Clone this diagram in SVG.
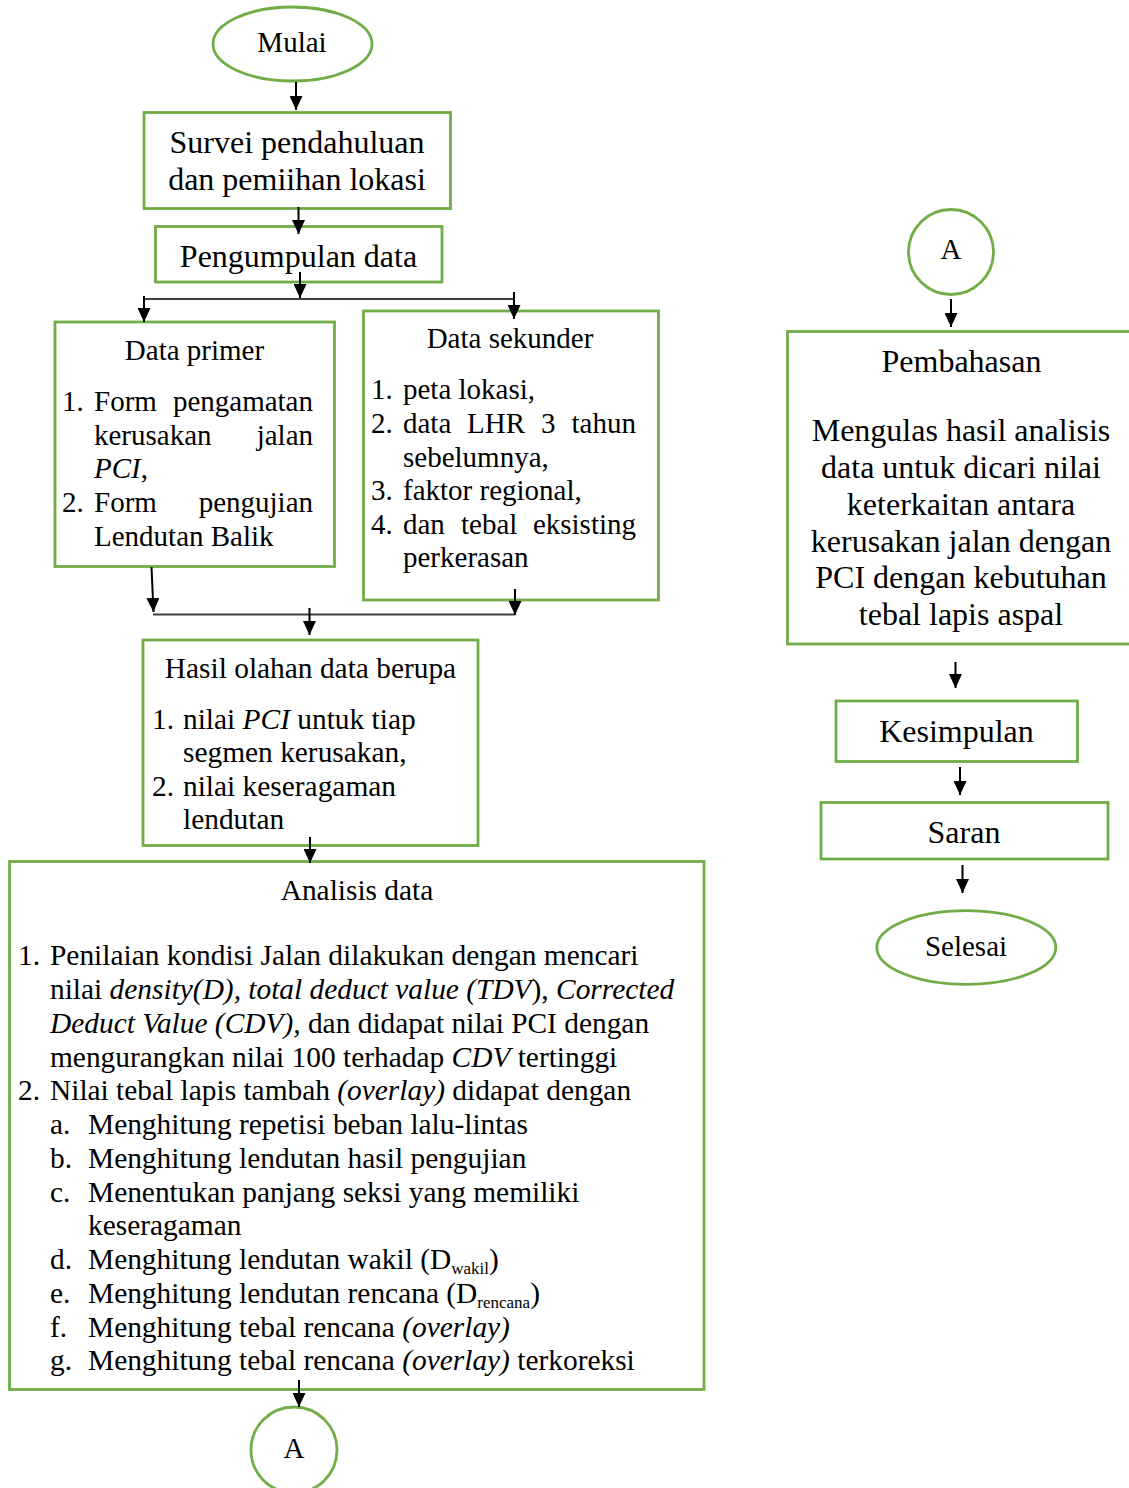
<svg xmlns="http://www.w3.org/2000/svg" width="1129" height="1488" viewBox="0 0 1129 1488">
<style>
.n{fill:#fff;stroke:#70AD47;stroke-width:2.8}
.t{font-family:"Liberation Serif","Times New Roman",serif;fill:#000}
.s29{font-size:29px}
.s29b{font-size:29.4px}
.s32{font-size:32px}
.c{text-anchor:middle}
.e{text-anchor:end}
.i{font-style:italic}
.sub{font-size:17px}
.ln{stroke:#000;stroke-width:2;fill:none}
.hl{stroke:#404040;stroke-width:2;fill:none}
</style>
<defs>
<marker id="ah" viewBox="0 0 14 13" refX="14" refY="6.5" markerWidth="14" markerHeight="13" markerUnits="userSpaceOnUse" orient="auto">
<path d="M0,0 L14,6.5 L0,13 z" fill="#000"/>
</marker>
</defs>
<rect width="1129" height="1488" fill="#fff"/>

<g id="mulai">
<ellipse class="n" cx="292.5" cy="44" rx="79.5" ry="37"/>
<text class="t s29 c" x="292" y="52">Mulai</text>
</g>
<g id="survei">
<rect class="n" x="144" y="112.5" width="306.5" height="96"/>
<text class="t s32 c" x="297" y="153">Survei pendahuluan</text>
<text class="t s32 c" x="297" y="189.5">dan pemiihan lokasi</text>
</g>
<g id="pengumpulan">
<rect class="n" x="155.5" y="226.5" width="286.5" height="55.5"/>
<text class="t s32 c" x="298.5" y="266.5">Pengumpulan data</text>
</g>
<g id="primer">
<rect class="n" x="55" y="322" width="279.5" height="244.5"/>
<text class="t s29 c" x="194.5" y="360">Data primer</text>
<text class="t s29" x="62" y="411">1.</text>
<text class="t s29" x="94" y="411">Form</text>
<text class="t s29 e" x="313" y="411">pengamatan</text>
<text class="t s29" x="94" y="445">kerusakan</text>
<text class="t s29 e" x="313" y="445">jalan</text>
<text class="t s29" x="94" y="478"><tspan class="i">PCI</tspan>,</text>
<text class="t s29" x="62" y="512">2.</text>
<text class="t s29" x="94" y="512">Form</text>
<text class="t s29 e" x="313" y="512">pengujian</text>
<text class="t s29" x="94" y="546">Lendutan Balik</text>
</g>
<g id="sekunder">
<rect class="n" x="363.5" y="311" width="295" height="289"/>
<text class="t s29 c" x="510" y="348">Data sekunder</text>
<text class="t s29" x="371" y="399">1.</text>
<text class="t s29" x="403" y="399">peta lokasi,</text>
<text class="t s29" x="371" y="433">2.</text>
<text class="t s29" x="403" y="433">data</text>
<text class="t s29" x="467" y="433">LHR</text>
<text class="t s29" x="541" y="433">3</text>
<text class="t s29 e" x="636" y="433">tahun</text>
<text class="t s29" x="403" y="467">sebelumnya,</text>
<text class="t s29" x="371" y="500">3.</text>
<text class="t s29" x="403" y="500">faktor regional,</text>
<text class="t s29" x="371" y="534">4.</text>
<text class="t s29" x="403" y="534">dan</text>
<text class="t s29" x="461" y="534">tebal</text>
<text class="t s29 e" x="636" y="534">eksisting</text>
<text class="t s29" x="403" y="567">perkerasan</text>
</g>
<g id="hasil">
<rect class="n" x="143" y="640" width="335" height="205.5"/>
<text class="t s29b c" x="310.5" y="678">Hasil olahan data berupa</text>
<text class="t s29b" x="152" y="729">1.</text>
<text class="t s29b" x="183" y="729">nilai <tspan class="i">PCI</tspan> untuk tiap</text>
<text class="t s29b" x="183" y="762">segmen kerusakan,</text>
<text class="t s29b" x="152" y="796">2.</text>
<text class="t s29b" x="183" y="796">nilai keseragaman</text>
<text class="t s29b" x="183" y="829">lendutan</text>
</g>
<g id="analisis">
<rect class="n" x="9.5" y="861.5" width="694.5" height="528"/>
<text class="t s29b c" x="357" y="900">Analisis data</text>
<text class="t s29b" x="18" y="965">1.</text>
<text class="t s29b" x="50" y="965">Penilaian kondisi Jalan dilakukan dengan mencari</text>
<text class="t s29b" x="50" y="999">nilai <tspan class="i">density(D), total deduct value (TDV</tspan>), <tspan class="i">Corrected</tspan></text>
<text class="t s29b" x="50" y="1033"><tspan class="i">Deduct Value (CDV),</tspan> dan didapat nilai PCI dengan</text>
<text class="t s29b" x="50" y="1067">mengurangkan nilai 100 terhadap <tspan class="i">CDV</tspan> tertinggi</text>
<text class="t s29b" x="18" y="1100">2.</text>
<text class="t s29b" x="50" y="1100">Nilai tebal lapis tambah <tspan class="i">(overlay)</tspan> didapat dengan</text>
<text class="t s29b" x="50" y="1134">a.</text>
<text class="t s29b" x="88" y="1134">Menghitung repetisi beban lalu-lintas</text>
<text class="t s29b" x="50" y="1168">b.</text>
<text class="t s29b" x="88" y="1168">Menghitung lendutan hasil pengujian</text>
<text class="t s29b" x="50" y="1202">c.</text>
<text class="t s29b" x="88" y="1202">Menentukan panjang seksi yang memiliki</text>
<text class="t s29b" x="88" y="1235">keseragaman</text>
<text class="t s29b" x="50" y="1269">d.</text>
<text class="t s29b" x="88" y="1269">Menghitung lendutan wakil (D<tspan class="sub" dy="5">wakil</tspan><tspan dy="-5">)</tspan></text>
<text class="t s29b" x="50" y="1303">e.</text>
<text class="t s29b" x="88" y="1303">Menghitung lendutan rencana (D<tspan class="sub" dy="5">rencana</tspan><tspan dy="-5">)</tspan></text>
<text class="t s29b" x="50" y="1337">f.</text>
<text class="t s29b" x="88" y="1337">Menghitung tebal rencana <tspan class="i">(overlay)</tspan></text>
<text class="t s29b" x="50" y="1370">g.</text>
<text class="t s29b" x="88" y="1370">Menghitung tebal rencana <tspan class="i">(overlay)</tspan> terkoreksi</text>
</g>
<g id="a-bottom">
<circle class="n" cx="294" cy="1450" r="43"/>
<text class="t s29 c" x="294" y="1458">A</text>
</g>
<g id="a-top">
<circle class="n" cx="951" cy="252" r="42.5"/>
<text class="t s29 c" x="951" y="259">A</text>
</g>
<g id="pembahasan">
<rect class="n" x="787.5" y="331.5" width="350" height="312.5"/>
<text class="t s32 c" x="961.5" y="372">Pembahasan</text>
<text class="t s32 c" x="961" y="441">Mengulas hasil analisis</text>
<text class="t s32 c" x="961" y="478">data untuk dicari nilai</text>
<text class="t s32 c" x="961" y="515">keterkaitan antara</text>
<text class="t s32 c" x="961" y="552">kerusakan jalan dengan</text>
<text class="t s32 c" x="961" y="588">PCI dengan kebutuhan</text>
<text class="t s32 c" x="961" y="625">tebal lapis aspal</text>
</g>
<g id="kesimpulan">
<rect class="n" x="836" y="701" width="241.5" height="60.5"/>
<text class="t s32 c" x="956.5" y="742">Kesimpulan</text>
</g>
<g id="saran">
<rect class="n" x="821" y="802.5" width="287" height="56.5"/>
<text class="t s32 c" x="964" y="843">Saran</text>
</g>
<g id="selesai">
<ellipse class="n" cx="966.3" cy="947.5" rx="89.5" ry="36.8"/>
<text class="t s29 c" x="966" y="956">Selesai</text>
</g>

<g id="connectors">
<line class="ln" x1="296" y1="82" x2="296" y2="110" marker-end="url(#ah)"/>
<line class="ln" x1="298.5" y1="207" x2="298.5" y2="234" marker-end="url(#ah)"/>
<line class="ln" x1="300" y1="272" x2="300" y2="298" marker-end="url(#ah)"/>
<line class="hl" x1="144" y1="299" x2="515" y2="299"/>
<line class="ln" x1="144" y1="296" x2="144" y2="322" marker-end="url(#ah)"/>
<line class="ln" x1="514" y1="292" x2="514" y2="319" marker-end="url(#ah)"/>
<line class="ln" x1="151.5" y1="567" x2="153.5" y2="612" marker-end="url(#ah)"/>
<line class="hl" x1="153" y1="614.5" x2="515" y2="614.5"/>
<line class="ln" x1="515" y1="589" x2="515" y2="615" marker-end="url(#ah)"/>
<line class="ln" x1="309.5" y1="608" x2="309.5" y2="635" marker-end="url(#ah)"/>
<line class="ln" x1="310" y1="837" x2="310" y2="863" marker-end="url(#ah)"/>
<line class="ln" x1="299" y1="1380" x2="299" y2="1407" marker-end="url(#ah)"/>
<line class="ln" x1="951" y1="299" x2="951" y2="327" marker-end="url(#ah)"/>
<line class="ln" x1="955.5" y1="662" x2="955.5" y2="688" marker-end="url(#ah)"/>
<line class="ln" x1="960" y1="767" x2="960" y2="795" marker-end="url(#ah)"/>
<line class="ln" x1="962.5" y1="865" x2="962.5" y2="893" marker-end="url(#ah)"/>
</g>
</svg>
